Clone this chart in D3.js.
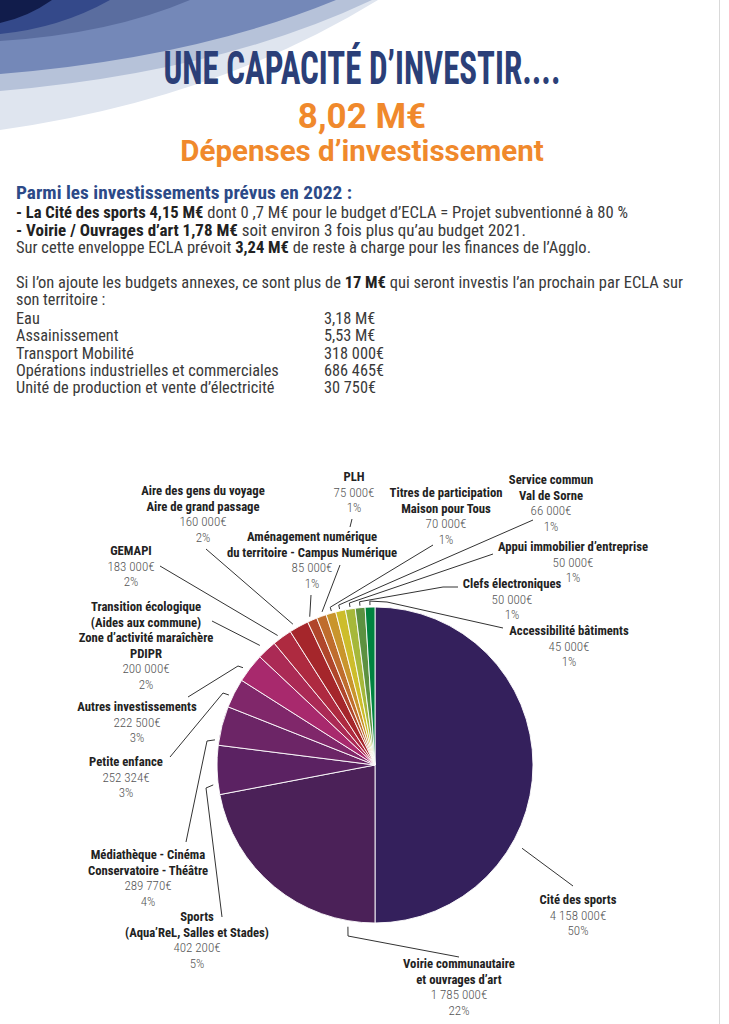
<!DOCTYPE html>
<html><head><meta charset="utf-8">
<script src="https://cdn.jsdelivr.net/npm/d3@7"></script>
<style>body{margin:0;background:#fff}svg{display:block}</style>
</head><body>
<svg id="c" width="729" height="1024"></svg>
<script>
// ---------- data ----------
const categories = ["Cité des sports","Voirie communautaire","Sports","Médiathèque","Petite enfance","Autres investissements","Transition écologique","GEMAPI","Aire des gens du voyage","Aménagement numérique","PLH","Titres de participation","Service commun","Appui immobilier","Clefs électroniques","Accessibilité bâtiments"];
const labelTitles = [
  ["Cité des sports"],
  ["Voirie communautaire","et ouvrages d’art"],
  ["Sports","(Aqua’ReL, Salles et Stades)"],
  ["Médiathèque - Cinéma","Conservatoire - Théâtre"],
  ["Petite enfance"],
  ["Autres investissements"],
  ["Transition écologique","(Aides aux commune)","Zone d’activité maraîchère","PDIPR"],
  ["GEMAPI"],
  ["Aire des gens du voyage","Aire de grand passage"],
  ["Aménagement numérique","du territoire - Campus Numérique"],
  ["PLH"],
  ["Titres de participation","Maison pour Tous"],
  ["Service commun","Val de Sorne"],
  ["Appui immobilier d’entreprise"],
  ["Clefs électroniques"],
  ["Accessibilité bâtiments"]
];
const amounts = ["4 158 000€","1 785 000€","402 200€","289 770€","252 324€","222 500€","200 000€","183 000€","160 000€","85 000€","75 000€","70 000€","66 000€","50 000€","50 000€","45 000€"];
const percents = [50,22,5,4,3,3,2,2,2,1,1,1,1,1,1,1];
const colors = ["#34205c","#4b2158","#5b2262","#6c2566","#80276a","#a8296d","#ab2a55","#ae2a40","#a5262b","#b0462b","#bf6d2d","#c9952c","#cdbd2b","#a6b83a","#5c9140","#00823f"];

const annexNames = ["Eau","Assainissement","Transport Mobilité","Opérations industrielles et commerciales","Unité de production et vente d’électricité"];
const annexValues = ["3,18 M€","5,53 M€","318 000€","686 465€","30 750€"];

const introLines = [
  [["- La Cité des sports 4,15 M€",1],[" dont 0 ,7 M€ pour le budget d’ECLA = Projet subventionné à 80 %",0]],
  [["- Voirie / Ouvrages d’art 1,78 M€",1],[" soit environ 3 fois plus qu’au budget 2021.",0]],
  [["Sur cette enveloppe ECLA prévoit ",0],["3,24 M€",1],[" de reste à charge pour les finances de l’Agglo.",0]],
  [],
  [["Si l’on ajoute les budgets annexes, ce sont plus de ",0],["17 M€",1],[" qui seront investis l’an prochain par ECLA sur",0]],
  [["son territoire :",0]]
];

// ---------- layout (annotation positions) ----------
const W = 729, H = 1024;
const cx = 375, cy = 765, R = 158;
const COND = "'Roboto Condensed','Liberation Sans Narrow','DejaVu Sans Condensed',sans-serif";
const ROBO = "Roboto,'Liberation Sans',sans-serif";
const introY = [218,236,253,270,288,305];
const introW = [612,510,575,0,667,0];
// label anchor (center x, first baseline)
const labelPos = [[578,904],[459,968],[197,921],[148,859],[126,766],[137,711],[146,611],[131,555],[203,495],[312,541],[354,481],[446,497],[551,484],[573,551],[512,588],[569,635]];
// leader: fraction along slice, radial offset, extra points
const leaders = [
  {t:0.664, o:11, tick:false, pts:[[573,886]]},
  {t:0.12, o:6, tick:false, pts:[[348,936],[459,957]]},
  {t:0.21, o:5, tick:false, pts:[[206,788],[222,917]]},
  {t:0.12, o:4, tick:false, pts:[[207,741],[186,842]]},
  {t:0.37, o:4, tick:false, pts:[[223,693],[170,757]]},
  {t:0.37, o:6, tick:false, pts:[[238,666],[188,697]]},
  {t:0.4, o:8, tick:false, pts:[[212,621]]},
  {t:0.37, o:4, tick:false, pts:[[160,566]]},
  {t:0.3, o:5, tick:false, pts:[[206,549]]},
  {t:0.4, o:4, tick:false, pts:[[311,595]]},
  {t:0.7, o:4, tick:false, pts:[[340,565]], extra:[[350,527],[352,519]]},
  {t:0.6, o:2, tick:true, pts:[[433,545]]},
  {t:0.45, o:2, tick:true, pts:[[533,520]]},
  {t:0.5, o:2, tick:true, pts:[[493,554]]},
  {t:0.5, o:2, tick:true, pts:[[443,587],[458,587]]},
  {t:0.5, o:2, tick:true, pts:[[387,602],[503,628]]}
];

const svg = d3.select("#c");

// ---------- header decoration ----------
const bands = [
  {c:"#dfe5ef", yL:130, xT:378, q:[215,100]},
  {c:"#b6c2d9", yL:91, xT:372, q:[220,72]},
  {c:"#7488b8", yL:74, xT:336, q:[195,58]},
  {c:"#5a6d9f", yL:41, xT:190, q:[110,34]},
  {c:"#34498a", yL:34, xT:110, q:[60,28]},
  {c:"#111c4b", yL:23, xT:52, q:[28,17]}
];
svg.selectAll("path.band").data(bands).join("path").attr("class","band")
  .attr("d", d => `M0,0 L${d.xT},0 Q${d.q[0]},${d.q[1]} 0,${d.yL} Z`)
  .attr("fill", d => d.c);
svg.append("line").attr("x1",719.5).attr("x2",719.5).attr("y1",0).attr("y2",H).attr("stroke","#d9d9d9").attr("stroke-width",1);

// ---------- titles ----------
svg.append("text").attr("x",362).attr("y",84).attr("text-anchor","middle")
  .attr("font-family",COND).attr("font-weight",700).attr("font-size",47)
  .attr("fill","#2b3f78").attr("textLength",397).attr("lengthAdjust","spacingAndGlyphs")
  .text("UNE CAPACITÉ D’INVESTIR....");
svg.append("text").attr("x",362).attr("y",128).attr("text-anchor","middle")
  .attr("font-family",ROBO).attr("font-weight",700).attr("font-size",35)
  .attr("fill","#f0892c").text("8,02 M€");
svg.append("text").attr("x",362).attr("y",161).attr("text-anchor","middle")
  .attr("font-family",ROBO).attr("font-weight",700).attr("font-size",29.5)
  .attr("fill","#f0892c").text("Dépenses d’investissement");

// ---------- paragraph ----------
svg.append("text").attr("x",16).attr("y",199).attr("font-family",COND).attr("font-weight",700)
  .attr("font-size",18).attr("fill","#2c4a88").attr("textLength",336).attr("lengthAdjust","spacingAndGlyphs")
  .text("Parmi les investissements prévus en 2022 :");
introLines.forEach((segs,i) => {
  const t = svg.append("text").attr("x",16).attr("y",introY[i]).attr("font-family",COND)
    .attr("font-size",16.2).attr("fill","#3a3a3a");
  if (introW[i]) t.attr("textLength",introW[i]).attr("lengthAdjust","spacingAndGlyphs");
  segs.forEach(s => t.append("tspan").attr("font-weight", s[1]?700:400).attr("fill", s[1]?"#222":"#3a3a3a").text(s[0]));
});
annexNames.forEach((n,i) => {
  const y = 324 + i*17.3;
  svg.append("text").attr("x",16).attr("y",y).attr("font-family",COND).attr("font-size",16.3).attr("fill","#3a3a3a").text(n);
  svg.append("text").attr("x",324).attr("y",y).attr("font-family",COND).attr("font-size",16.3).attr("fill","#3a3a3a").text(annexValues[i]);
});

// ---------- pie ----------
const pie = d3.pie().sort(null).value(d => d)(percents);
const arc = d3.arc().innerRadius(0).outerRadius(R);
const g = svg.append("g").attr("transform",`translate(${cx},${cy})`);
g.selectAll("path").data(pie).join("path")
  .attr("d", arc).attr("fill",(d,i)=>colors[i])
  .attr("stroke","#ffffff").attr("stroke-width",0.9).attr("stroke-linejoin","round");

const pt = (a, r) => [cx + r*Math.sin(a), cy - r*Math.cos(a)];
const line = d3.line();
pie.forEach((d,i) => {
  const L = leaders[i];
  const a = d.startAngle + L.t*(d.endAngle - d.startAngle);
  const p = [pt(a, R + L.o)];
  if (L.tick) p.push(pt(a, R + L.o + 4));
  const all = p.concat(L.pts);
  svg.append("path").attr("d", line(all)).attr("fill","none").attr("stroke","#333").attr("stroke-width",1);
  if (L.extra) svg.append("path").attr("d", line(L.extra)).attr("fill","none").attr("stroke","#333").attr("stroke-width",1);
});

// ---------- labels ----------
const LH = 15.5;
labelTitles.forEach((lines,i) => {
  const [x,y] = labelPos[i];
  lines.forEach((s,j) => {
    svg.append("text").attr("x",x).attr("y",y + j*LH).attr("text-anchor","middle")
      .attr("font-family",COND).attr("font-weight",700).attr("font-size",12.7).attr("fill","#222").text(s);
  });
  const n = lines.length;
  svg.append("text").attr("x",x).attr("y",y + n*LH).attr("text-anchor","middle")
    .attr("font-family",COND).attr("font-weight",300).attr("font-size",13).attr("fill","#555").text(amounts[i]);
  svg.append("text").attr("x",x).attr("y",y + (n+1)*LH).attr("text-anchor","middle")
    .attr("font-family",COND).attr("font-weight",300).attr("font-size",13).attr("fill","#555").text(percents[i] + "%");
});
</script>
</body></html>
